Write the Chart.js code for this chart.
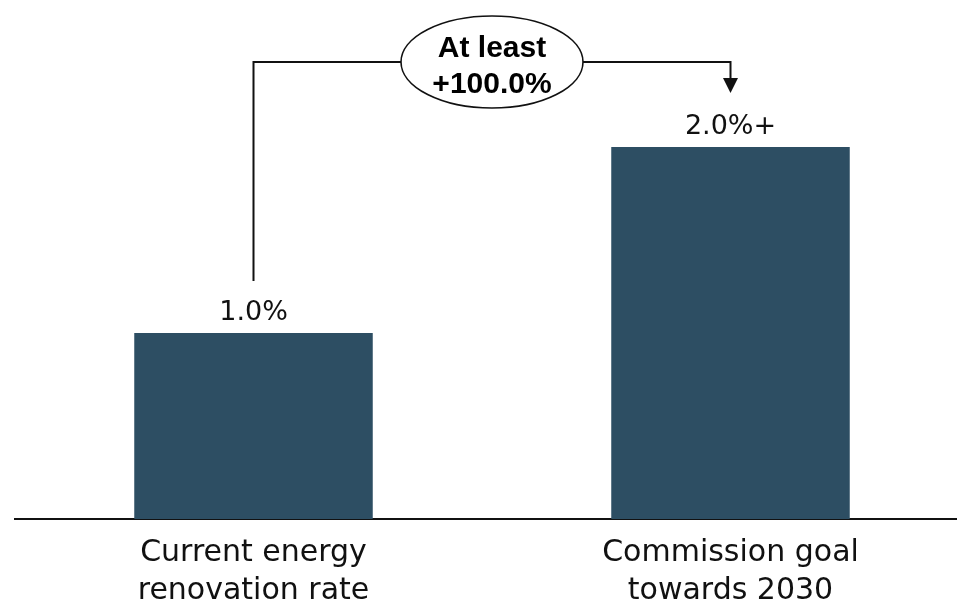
<!DOCTYPE html>
<html>
<head>
<meta charset="utf-8">
<script src="https://cdn.jsdelivr.net/npm/chart.js@4/dist/chart.umd.min.js"></script>
<style>
  html, body { margin: 0; padding: 0; background: #ffffff; overflow: hidden; }
  #wrap { position: relative; width: 975px; height: 606px; }
</style>
</head>
<body>
<div id="wrap"><canvas id="chart"></canvas></div>
<script>
// Renovation rate: today vs. the Commission's 2030 goal
const categories = [
  ['Current energy', 'renovation rate'],
  ['Commission goal', 'towards 2030']
];
const values = [1.0, 2.0];          // % of building stock renovated per year
const valueSuffix = ['', '+'];      // "2.0%+" means at least 2.0%
const changeLabel = ['At least', '+100.0%'];

const BAR_COLOR = '#2d4e63';
const TEXT_FONT = '"DejaVu Sans", sans-serif';

// Value labels above each bar
const valueLabels = {
  id: 'valueLabels',
  afterDatasetsDraw(chart) {
    const { ctx } = chart;
    const meta = chart.getDatasetMeta(0);
    ctx.save();
    ctx.fillStyle = '#111111';
    ctx.font = '27px ' + TEXT_FONT;
    ctx.textAlign = 'center';
    ctx.textBaseline = 'alphabetic';
    meta.data.forEach((bar, i) => {
      ctx.fillText(values[i].toFixed(1) + '%' + valueSuffix[i], bar.x, bar.y - 13);
    });
    ctx.restore();
  }
};

// Bracket from the first bar to the second, with the change in an ellipse
const changeBracket = {
  id: 'changeBracket',
  afterDraw(chart) {
    const { ctx } = chart;
    const meta = chart.getDatasetMeta(0);
    const a = meta.data[0], b = meta.data[1];
    const topY = b.y - 85;
    const startY = a.y - 52;
    const tipY = b.y - 54;
    const cx = (a.x + b.x) / 2;
    const rx = 91, ry = 46;

    ctx.save();
    ctx.strokeStyle = '#111111';
    ctx.fillStyle = '#111111';
    ctx.lineWidth = 2;

    ctx.beginPath();
    ctx.moveTo(a.x, startY);
    ctx.lineTo(a.x, topY);
    ctx.lineTo(cx - rx, topY);
    ctx.moveTo(cx + rx, topY);
    ctx.lineTo(b.x, topY);
    ctx.lineTo(b.x, tipY - 14);
    ctx.stroke();

    // arrow head
    ctx.beginPath();
    ctx.moveTo(b.x - 7.5, tipY - 15);
    ctx.lineTo(b.x + 7.5, tipY - 15);
    ctx.lineTo(b.x, tipY);
    ctx.closePath();
    ctx.fill();

    // ellipse
    ctx.lineWidth = 1.6;
    ctx.beginPath();
    ctx.ellipse(cx, topY, rx, ry, 0, 0, Math.PI * 2);
    ctx.fillStyle = '#ffffff';
    ctx.fill();
    ctx.stroke();

    ctx.fillStyle = '#000000';
    ctx.font = 'bold 30px "Liberation Sans", Arial, sans-serif';
    ctx.textAlign = 'center';
    ctx.textBaseline = 'alphabetic';
    ctx.fillText(changeLabel[0], cx, topY - 5);
    ctx.fillText(changeLabel[1], cx, topY + 31);
    ctx.restore();
  }
};

new Chart(document.getElementById('chart'), {
  type: 'bar',
  data: {
    labels: categories,
    datasets: [{
      data: values,
      backgroundColor: BAR_COLOR,
      borderWidth: 0,
      barPercentage: 0.5,
      categoryPercentage: 1.0
    }]
  },
  options: {
    responsive: true,
    maintainAspectRatio: false,
    animation: false,
    layout: { padding: { left: 15, right: 6, top: 0, bottom: 0 } },
    plugins: {
      legend: { display: false },
      tooltip: { enabled: false }
    },
    scales: {
      x: {
        grid: { display: false, drawTicks: false },
        border: { display: true, color: '#111111', width: 2 },
        ticks: {
          color: '#111111',
          padding: 15,
          font: { family: TEXT_FONT, size: 30, lineHeight: 1.27 },
          maxRotation: 0,
          autoSkip: false
        },
        afterFit(scale) { scale.height = 87; }
      },
      y: {
        display: false,
        min: 0,
        max: 2.79
      }
    }
  },
  plugins: [valueLabels, changeBracket]
});
</script>
</body>
</html>
